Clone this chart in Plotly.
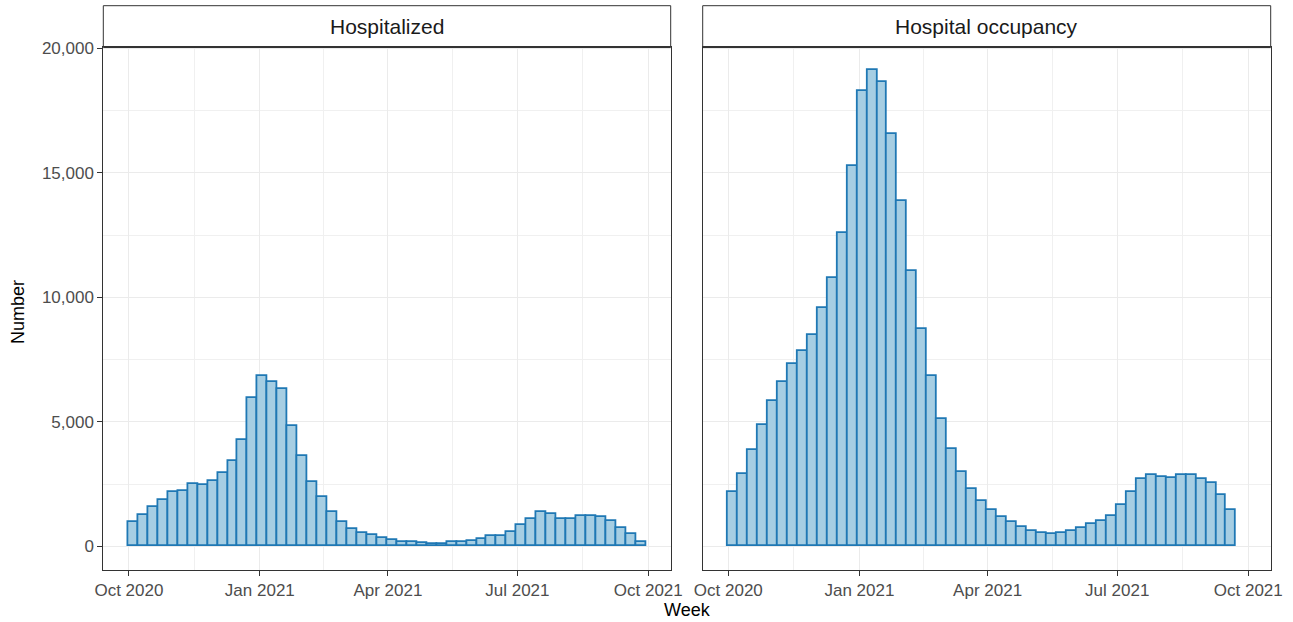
import pandas as pd
import plotly.graph_objects as go

# ---------------- data ----------------
first_week = "2020-10-04"
hospitalized = [970, 1240, 1570, 1840, 2160, 2230, 2480, 2450, 2630, 2930,
                3430, 4250, 5960, 6840, 6590, 6300, 4840, 3640, 2600, 1960,
                1390, 970, 710, 550, 465, 330, 240, 180, 180, 130,
                100, 100, 155, 155, 210, 300, 395, 395, 556, 837,
                1105, 1360, 1306, 1092, 1092, 1226, 1199, 1159, 1011, 730,
                489, 154]
occupancy = [2177, 2913, 3878, 4856, 5820, 6584, 7334, 7829, 8486, 9584,
             10790, 12571, 15290, 18304, 19135, 18639, 16576, 13857, 11071, 8727,
             6825, 5124, 3918, 2980, 2310, 1828, 1467, 1172, 971, 757,
             623, 529, 502, 529, 596, 730, 891, 998, 1199, 1668,
             2177, 2713, 2873, 2793, 2726, 2846, 2873, 2686, 2538, 2070,
             1440]
panel_titles = ["Hospitalized", "Hospital occupancy"]
x_tickvals = ["2020-10-01", "2021-01-01", "2021-04-01", "2021-07-01", "2021-10-01"]
x_ticktext = ["Oct 2020", "Jan 2021", "Apr 2021", "Jul 2021", "Oct 2021"]
x_minor = ["2020-11-16", "2021-02-15", "2021-05-16 12:00", "2021-08-16"]
y_tickvals = [0, 5000, 10000, 15000, 20000]
y_minor = [2500, 7500, 12500, 17500]

weeks_h = pd.date_range(first_week, periods=len(hospitalized), freq="7D")
weeks_o = pd.date_range(first_week, periods=len(occupancy), freq="7D")

# ---------------- style ----------------
W, H = 1293, 622
FONT = "Liberation Sans, Arial, Helvetica, sans-serif"
FILL = "#a6cee3"
EDGE = "#1f78b4"
BORDER = "#333333"
GRID = "#ebebeb"
WEEK_MS = 7 * 24 * 3600 * 1000

def px(x):
    return x / W

def py(y):
    return 1 - y / H

panels_x = [(103.3, 670.7), (702.7, 1270.7)]
panel_top, panel_bottom, strip_top = 47, 570, 5.7

fig = go.Figure()
for i, (weeks, vals) in enumerate([(weeks_h, hospitalized), (weeks_o, occupancy)]):
    fig.add_trace(go.Bar(
        x=weeks, y=vals, width=[WEEK_MS] * len(vals),
        marker=dict(color=FILL, line=dict(color=EDGE, width=1.8)),
        xaxis="x" if i == 0 else "x2", yaxis="y" if i == 0 else "y2",
        showlegend=False, hoverinfo="x+y",
    ))

x_range = ["2020-09-13", "2021-10-16 18:00"]
y_range = [-955, 20055]

common_x = dict(
    type="date", range=x_range, tickmode="array", tickvals=x_tickvals, ticktext=x_ticktext,
    showgrid=True, gridcolor=GRID, gridwidth=1,
    minor=dict(tickmode="array", tickvals=x_minor, showgrid=True, gridcolor="#f0f0f0", gridwidth=1, ticks=""),
    showline=True, mirror=True, linecolor=BORDER, linewidth=1,
    ticks="outside", ticklen=5, tickwidth=1, tickcolor=BORDER,
    tickfont=dict(family=FONT, size=17, color="#4d4d4d"),
    zeroline=False, fixedrange=True, automargin=False,
)
common_y = dict(
    range=y_range, tickmode="array", tickvals=y_tickvals, tickformat=",",
    showgrid=True, gridcolor=GRID, gridwidth=1,
    minor=dict(tickmode="array", tickvals=y_minor, showgrid=True, gridcolor="#f0f0f0", gridwidth=1, ticks=""),
    showline=True, mirror=True, linecolor=BORDER, linewidth=1,
    tickfont=dict(family=FONT, size=17, color="#4d4d4d"),
    zeroline=False, fixedrange=True, automargin=False,
    domain=[py(panel_bottom), py(panel_top)],
)

fig.update_layout(
    width=W, height=H, autosize=False,
    margin=dict(l=0, r=0, t=0, b=0, autoexpand=False),
    paper_bgcolor="white", plot_bgcolor="white",
    bargap=0,
    font=dict(family=FONT),
    xaxis=dict(common_x, domain=[px(panels_x[0][0]), px(panels_x[0][1])], anchor="y"),
    xaxis2=dict(common_x, domain=[px(panels_x[1][0]), px(panels_x[1][1])], anchor="y2", matches="x"),
    yaxis=dict(common_y, anchor="x", ticks="outside", ticklen=5, tickwidth=1, tickcolor=BORDER),
    yaxis2=dict(common_y, anchor="x2", matches="y", showticklabels=False, ticks=""),
)

shapes = []
annotations = []
for (x0, x1), title in zip(panels_x, panel_titles):
    shapes.append(dict(type="rect", xref="paper", yref="paper",
                       x0=px(x0), x1=px(x1), y0=py(panel_top), y1=py(strip_top),
                       line=dict(color=BORDER, width=1), fillcolor="white", layer="above"))
    shapes.append(dict(type="line", xref="paper", yref="paper",
                       x0=px(x0), x1=px(x1), y0=py(panel_top), y1=py(panel_top),
                       line=dict(color=BORDER, width=2), layer="above"))
    annotations.append(dict(text=title, xref="paper", yref="paper",
                            x=px((x0 + x1) / 2), y=py((panel_top + strip_top) / 2),
                            xanchor="center", yanchor="middle", showarrow=False,
                            font=dict(family=FONT, size=21, color="#1a1a1a")))
annotations.append(dict(text="Number", xref="paper", yref="paper", x=px(18), y=py(312),
                        textangle=-90, xanchor="center", yanchor="middle", showarrow=False,
                        font=dict(family=FONT, size=18, color="black")))
annotations.append(dict(text="Week", xref="paper", yref="paper", x=px(687), y=py(610),
                        xanchor="center", yanchor="middle", showarrow=False,
                        font=dict(family=FONT, size=18, color="black")))
fig.update_layout(shapes=shapes, annotations=annotations)

fig.write_html("out.html", config={"displayModeBar": False, "responsive": False},
               post_script="document.body.style.margin='0';document.body.style.overflow='hidden';")
